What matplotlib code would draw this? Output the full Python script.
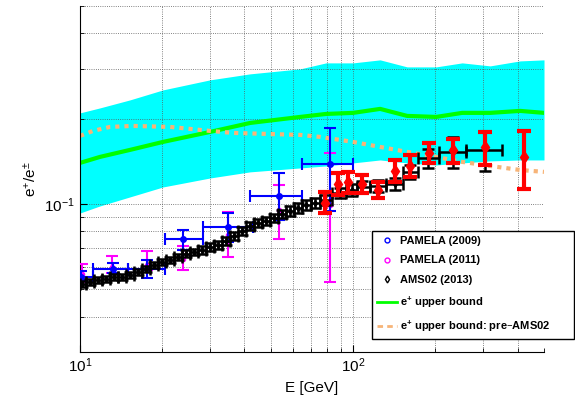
import numpy as np
import matplotlib.pyplot as plt
from matplotlib.lines import Line2D
from matplotlib.ticker import NullFormatter

plt.rcParams['font.family'] = ['Liberation Sans', 'DejaVu Sans']
plt.rcParams['mathtext.default'] = 'regular'

# upper bound band and curves
band_E = [10.0, 11.84, 15.25, 20.14, 29.94, 41.96, 63.98, 79.64, 100.0, 125.6,
          157.7, 201.4, 250.8, 317.6, 408.9, 500.0]
band_lo = [0.0929, 0.0984, 0.1059, 0.1148, 0.1235, 0.1298, 0.1340, 0.1362, 0.1396,
           0.1430, 0.1396, 0.1373, 0.1396, 0.1419, 0.1430, 0.1430]
band_hi = [0.2097, 0.2184, 0.2331, 0.2528, 0.2743, 0.2880, 0.2999, 0.3149, 0.3149,
           0.3227, 0.3048, 0.3048, 0.3149, 0.3073, 0.3200, 0.3227]
bound = [0.1396, 0.1466, 0.1552, 0.1656, 0.1796, 0.1932, 0.2029, 0.2079, 0.2097,
         0.2166, 0.2046, 0.2029, 0.2097, 0.2097, 0.2131, 0.2097]

pre_E = [10.0, 11.16, 12.88, 15.64, 21.36, 29.94, 36.35, 63.98, 75.70, 100.0,
         125.6, 157.7, 201.4, 250.8, 317.6, 408.9, 500.0]
pre_bound = [0.1739, 0.1811, 0.1871, 0.1886, 0.1871, 0.1811, 0.1782, 0.1753, 0.1725,
             0.1656, 0.1590, 0.1527, 0.1466, 0.1408, 0.1362, 0.1318, 0.1298]

# PAMELA (2009)
p09_E = [10.1, 13.2, 17.6, 23.8, 34.8, 53.6, 82.4]
p09_Elo = [9.5, 11.2, 15.0, 20.5, 28.2, 42.0, 65.0]
p09_Ehi = [11.2, 15.0, 20.5, 28.2, 43.0, 65.0, 100.0]
p09_val = [0.0552, 0.0589, 0.0589, 0.0752, 0.0829, 0.1067, 0.1384]
p09_lo = [0.0539, 0.0571, 0.0548, 0.0688, 0.0734, 0.0878, 0.0945]
p09_hi = [0.0580, 0.0619, 0.0634, 0.0809, 0.0929, 0.1287, 0.1856]

# PAMELA (2011)
p11_E = [10.2, 13.1, 17.6, 23.8, 34.8, 53.6, 82.4]
p11_val = [0.0565, 0.0600, 0.0610, 0.0640, 0.0777, 0.0953, 0.0992]
p11_lo = [0.0530, 0.0571, 0.0584, 0.0584, 0.0650, 0.0752, 0.0530]
p11_hi = [0.0614, 0.0655, 0.0682, 0.0710, 0.0937, 0.1167, 0.1514]

# AMS02 (2013)
ams_E = [10.17, 10.88, 11.64, 12.45, 13.32, 14.25, 15.25, 16.31, 17.45, 18.67,
         19.97, 21.36, 22.86, 24.45, 26.16, 27.99, 29.94, 32.03, 34.27, 36.66,
         39.22, 41.96, 44.89, 48.02, 51.38, 54.96, 58.80, 62.91, 67.30, 72.59,
         78.97, 89.64, 99.16, 107.9, 123.5, 142.5, 161.8, 188.3, 232.4, 304.5]
ams_edges = [10.0, 10.52, 11.25, 12.04, 12.88, 13.78, 14.74, 15.77, 16.87, 18.05,
             19.31, 20.66, 22.10, 23.64, 25.29, 27.06, 28.95, 30.97, 33.13, 35.44,
             37.92, 40.57, 43.40, 46.43, 49.67, 53.14, 56.85, 60.82, 65.06, 69.90,
             75.7, 84.0, 94.0, 103.0, 115.0, 132.0, 152.0, 173.0, 206.0, 260.0, 350.0]
ams_val = [0.0522, 0.0530, 0.0539, 0.0543, 0.0552, 0.0552, 0.0561, 0.0575, 0.0590, 0.0609,
           0.0624, 0.0634, 0.0650, 0.0666, 0.0677, 0.0688, 0.0705, 0.0717, 0.0740, 0.0771,
           0.0803, 0.0836, 0.0857, 0.0871, 0.0892, 0.0922, 0.0945, 0.0968, 0.0992, 0.1008,
           0.1033, 0.1094, 0.1121, 0.1148, 0.1158, 0.1177, 0.1298, 0.1454, 0.1527, 0.1552]
ams_err = [0.0013, 0.0013, 0.0013, 0.0014, 0.0014, 0.0014, 0.0015, 0.0015, 0.0016, 0.0016,
           0.0017, 0.0017, 0.0018, 0.0019, 0.0019, 0.0020, 0.0021, 0.0022, 0.0023, 0.0024,
           0.0025, 0.0027, 0.0028, 0.0029, 0.0031, 0.0033, 0.0035, 0.0037, 0.0039, 0.0041,
           0.0044, 0.0048, 0.0052, 0.0056, 0.0060, 0.0060, 0.0070, 0.0110, 0.0190, 0.0250]

# red data set
red_E = [78.97, 88.13, 95.87, 107.9, 123.5, 142.5, 161.8, 189.9, 232.4, 304.5, 423.0]
red_val = [0.1008, 0.1177, 0.1196, 0.1177, 0.1121, 0.1308, 0.1362, 0.1514, 0.1552, 0.1590, 0.1466]
red_lo = [0.0929, 0.1076, 0.1094, 0.1094, 0.1050, 0.1196, 0.1246, 0.1396, 0.1396, 0.1373, 0.1130]
red_hi = [0.1103, 0.1287, 0.1298, 0.1266, 0.1196, 0.1430, 0.1490, 0.1643, 0.1697, 0.1796, 0.1811]

fig = plt.figure(figsize=(5.75, 3.96), dpi=100)
ax = fig.add_axes([0.1391, 0.1111, 0.807, 0.8737])
ax.set_xscale('log')
ax.set_yscale('log')

ax.fill_between(band_E, band_lo, band_hi, color=(0, 1, 1), lw=0, zorder=1)
ax.plot(band_E, bound, color=(0, 1, 0), lw=3, zorder=2)
ax.plot(pre_E, pre_bound, color='#f7b478', lw=3, dashes=(1, 1.2), zorder=2)

v = np.array(p11_val)
ax.errorbar(p11_E, v, yerr=[v - np.array(p11_lo), np.array(p11_hi) - v], fmt='o',
            color=(1, 0, 1), ms=3, lw=1.5, capsize=4.3, capthick=1.5, zorder=3)

v = np.array(p09_val)
e = np.array(p09_E)
ax.errorbar(e, v, yerr=[v - np.array(p09_lo), np.array(p09_hi) - v],
            xerr=[e - np.array(p09_Elo), np.array(p09_Ehi) - e], fmt='o',
            color=(0, 0, 1), ms=4, lw=1.5, capsize=4.3, capthick=1.5, zorder=4)

e = np.array(ams_E)
edges = np.array(ams_edges)
ax.errorbar(e, ams_val, yerr=ams_err, xerr=[e - edges[:-1], edges[1:] - e], fmt='d',
            color='k', ms=3, lw=1.8, capsize=4.5, capthick=1.8, zorder=5)

v = np.array(red_val)
ax.errorbar(red_E, v, yerr=[v - np.array(red_lo), np.array(red_hi) - v], fmt='d',
            color=(1, 0, 0), ms=6, lw=3, capsize=5, capthick=3, zorder=6)

ax.set_xlim(10, 500)
ax.set_ylim(0.03, 0.5)
ax.grid(True, which='both', ls=':', color='0.35', lw=0.6)
ax.yaxis.set_minor_formatter(NullFormatter())
ax.xaxis.set_minor_formatter(NullFormatter())
ax.tick_params(which='both', direction='in', top=False, right=False, labelsize=11)
ax.tick_params(which='major', length=5)
ax.tick_params(which='minor', length=3)
ax.spines['top'].set_visible(False)
ax.spines['right'].set_visible(False)

ax.set_xlabel('E [GeV]', fontsize=11)
ax.set_ylabel('e$^{+}$/e$^{\\pm}$', fontsize=11)

handles = [
    Line2D([], [], ls='none', marker='o', mfc='none', mec=(0, 0, 1), ms=3.5, mew=1),
    Line2D([], [], ls='none', marker='o', mfc='none', mec=(1, 0, 1), ms=3.5, mew=1),
    Line2D([], [], ls='none', marker='d', mfc='none', mec='k', ms=3.5, mew=1),
    Line2D([], [], color=(0, 1, 0), lw=2),
    Line2D([], [], color='#f7b478', lw=2, dashes=(2, 1.5)),
]
labels = ['PAMELA (2009)', 'PAMELA (2011)', 'AMS02 (2013)',
          'e$^{+}$ upper bound', 'e$^{+}$ upper bound: pre\u2013AMS02']
fig.legend(handles, labels, loc='upper left',
           bbox_to_anchor=(372 / 575, 61 / 396, 202 / 575, 104 / 396),
           bbox_transform=fig.transFigure, mode='expand', borderaxespad=0,
           prop={'weight': 'bold', 'size': 8}, fancybox=False, edgecolor='k',
           framealpha=1, handlelength=1.8, handletextpad=0.3, labelspacing=0.85,
           borderpad=0.45)
fig.legends[0].get_frame().set_linewidth(1.0)

fig.savefig('out.png', dpi=100)
